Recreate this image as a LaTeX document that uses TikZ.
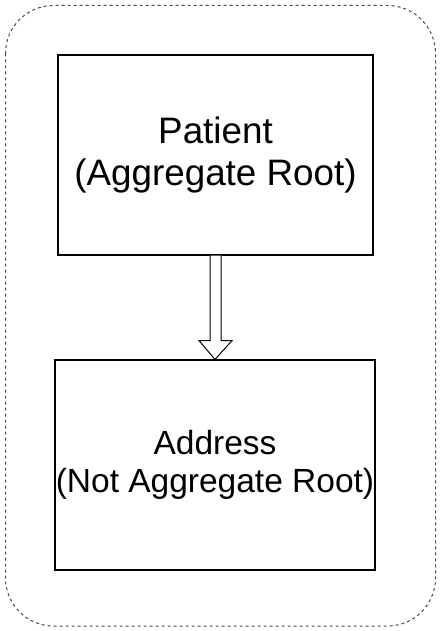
\documentclass[tikz,border=0pt]{standalone}
\usepackage{fontspec}
\setmainfont{Liberation Sans}
\begin{document}
\begin{tikzpicture}[x=1pt,y=-1pt,
  entity/.style={draw=black,line width=1.2pt,minimum width=#1,inner sep=0pt,align=center},
  frame/.style={draw=black!70,dashed,dash pattern=on 3pt off 3pt,line width=1pt,rounded corners=48pt}]
\useasboundingbox (0,0) rectangle (441,631);
\draw[frame] (5.5,5.5) rectangle (435.5,626);
\node[entity=315pt,minimum height=200pt,font=\fontsize{36.8}{41.5}\selectfont] (patient) at (215.5,155) {Patient\\(Aggregate Root)};
\node[entity=320pt,minimum height=210pt,font=\fontsize{33.5}{38.5}\selectfont] (address) at (215,465) {Address\\(Not Aggregate Root)};
\coordinate (ptop) at (patient.south);
\draw[line width=1pt,fill=white,line join=miter]
  ([xshift=-5.5pt]ptop) -- ([xshift=-5.5pt,yshift=-85pt]ptop) -- ([xshift=-16.5pt,yshift=-85pt]ptop)
  -- (address.north) -- ([xshift=16.5pt,yshift=-85pt]ptop) -- ([xshift=5.5pt,yshift=-85pt]ptop)
  -- ([xshift=5.5pt]ptop);
\end{tikzpicture}
\end{document}
